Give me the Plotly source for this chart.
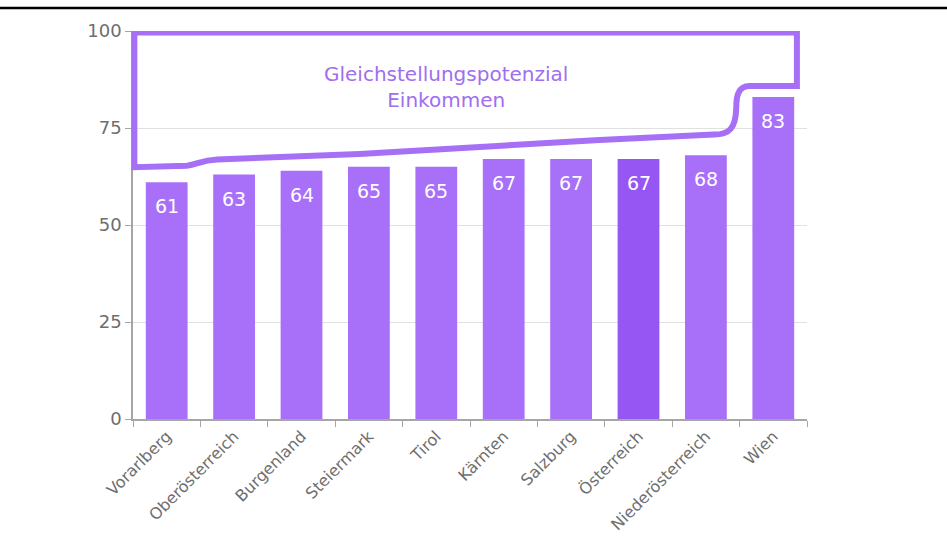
import plotly.graph_objects as go

categories = ["Vorarlberg", "Oberösterreich", "Burgenland", "Steiermark", "Tirol",
              "Kärnten", "Salzburg", "Österreich", "Niederösterreich", "Wien"]
values = [61, 63, 64, 65, 65, 67, 67, 67, 68, 83]
highlight = "Österreich"
y_ticks = [0, 25, 50, 75, 100]
annotation_text = "Gleichstellungspotenzial<br>Einkommen"

BAR = "#A870F8"
BAR_DARK = "#9656F4"
OUTLINE = "#A66FF5"
FONT = "'DejaVu Sans', sans-serif"
GRAY = "#6E6E6E"

colors = [BAR_DARK if c == highlight else BAR for c in categories]

fig = go.Figure()
fig.add_trace(go.Bar(
    x=categories, y=values, marker=dict(color=colors, line=dict(width=0)),
    width=0.62, hoverinfo="x+y", showlegend=False,
))

for c, v in zip(categories, values):
    fig.add_annotation(x=c, y=v, xref="x", yref="y", text=str(v), showarrow=False,
                       yanchor="top", yshift=-11,
                       font=dict(family=FONT, size=19, color="white"))

# Outline "Gleichstellungspotenzial" shape
path = ("M 0.002,99.6 L 0.985,99.6 L 0.985,85.8 L 0.915,85.8 "
        "C 0.897,85.8 0.895,83 0.895,80 C 0.894,75 0.885,73.3 0.862,73.3 "
        "L 0.692,71.9 L 0.336,68.3 L 0.125,66.9 "
        "C 0.1,66.7 0.095,65.5 0.08,65.3 L 0.002,64.9 Z")
fig.add_shape(type="path", path=path, xref="paper", yref="y",
              line=dict(color=OUTLINE, width=6), fillcolor="rgba(0,0,0,0)", layer="above")

fig.add_annotation(x=0.464, y=85.6, xref="paper", yref="y", text=annotation_text,
                   showarrow=False, align="center",
                   font=dict(family=FONT, size=20, color="#A06EF0"))

# top black rule
fig.add_shape(type="line", xref="paper", yref="paper", x0=-0.2, x1=1.21,
              y0=1.0593, y1=1.0593, line=dict(color="black", width=2.5))

fig.update_layout(
    width=947, height=541,
    margin=dict(l=133, r=140, t=31, b=122),
    paper_bgcolor="white", plot_bgcolor="white",
    bargap=0.38,
    font=dict(family=FONT, color=GRAY),
    xaxis=dict(
        type="category", tickangle=-45, tickson="boundaries",
        ticks="outside", ticklen=6, tickcolor="#A6A6A6",
        showline=True, linecolor="#A6A6A6", linewidth=1.5,
        tickfont=dict(family=FONT, size=16, color=GRAY),
        showgrid=False, automargin=False,
    ),
    yaxis=dict(
        range=[0, 100], tickvals=y_ticks, ticks="outside", ticklen=6,
        tickcolor="#A6A6A6", showline=True, linecolor="#A6A6A6", linewidth=1.5,
        gridcolor="#E0E0E0", gridwidth=1, zeroline=False,
        tickfont=dict(family=FONT, size=18, color=GRAY),
        automargin=False,
    ),
)

fig.write_html("out.html", config={"displayModeBar": False},
               post_script="document.body.style.margin='0';document.body.style.overflow='hidden';")
